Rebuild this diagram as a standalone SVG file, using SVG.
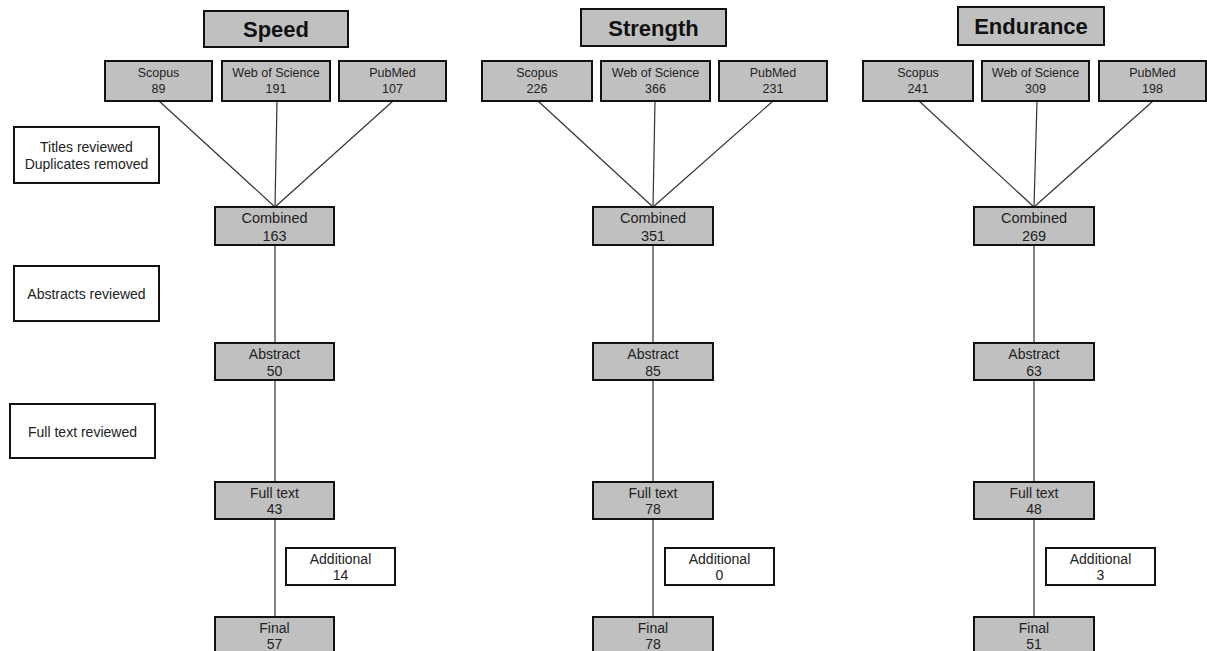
<svg xmlns="http://www.w3.org/2000/svg" width="1207" height="651" viewBox="0 0 1207 651">
  <style>
    .box { fill: #c0c0c0; stroke: #111; stroke-width: 2; }
    .note { fill: #ffffff; stroke: #111; stroke-width: 2; }
    text { font-family: "Liberation Sans", Arial, sans-serif; fill: #222; text-anchor: middle; }
    .title { font-size: 22px; font-weight: bold; fill: #111; }
    .src { font-size: 12.5px; }
    .lbl { font-size: 14px; }
    .cmb { font-size: 14.5px; }
    .conn line { stroke: #333; stroke-width: 1.2; }
  </style>
  <rect width="1207" height="651" fill="#ffffff"/>

  <!-- connectors -->
  <g id="connectors" class="conn">
    <!-- Speed -->
    <line x1="159" y1="101" x2="275" y2="207"/>
    <line x1="277" y1="101" x2="275" y2="207"/>
    <line x1="393" y1="101" x2="275" y2="207"/>
    <line x1="275" y1="245" x2="275" y2="343"/>
    <line x1="275" y1="380" x2="275" y2="482"/>
    <line x1="275" y1="519" x2="275" y2="617"/>
    <!-- Strength -->
    <line x1="538" y1="101" x2="653" y2="207"/>
    <line x1="655" y1="101" x2="653" y2="207"/>
    <line x1="773" y1="101" x2="653" y2="207"/>
    <line x1="653" y1="245" x2="653" y2="343"/>
    <line x1="653" y1="380" x2="653" y2="482"/>
    <line x1="653" y1="519" x2="653" y2="617"/>
    <!-- Endurance -->
    <line x1="919" y1="101" x2="1034" y2="207"/>
    <line x1="1037" y1="101" x2="1034" y2="207"/>
    <line x1="1153" y1="101" x2="1034" y2="207"/>
    <line x1="1034" y1="245" x2="1034" y2="343"/>
    <line x1="1034" y1="380" x2="1034" y2="482"/>
    <line x1="1034" y1="519" x2="1034" y2="617"/>
  </g>

  <!-- stage notes on the left -->
  <g id="note-titles">
    <rect class="note" x="14" y="127" width="145" height="56"/>
    <text class="lbl" x="86.5" y="152">Titles reviewed</text>
    <text class="lbl" x="86.5" y="169">Duplicates removed</text>
  </g>
  <g id="note-abstracts">
    <rect class="note" x="14" y="266" width="145" height="55"/>
    <text class="lbl" x="86.5" y="299">Abstracts reviewed</text>
  </g>
  <g id="note-fulltext">
    <rect class="note" x="10" y="404" width="145" height="54"/>
    <text class="lbl" x="82.5" y="437">Full text reviewed</text>
  </g>

  <!-- Speed column -->
  <g id="speed-title">
    <rect class="box" x="204" y="11" width="144" height="36"/>
    <text class="title" x="276" y="37">Speed</text>
  </g>
  <g id="speed-scopus">
    <rect class="box" x="105" y="61" width="107" height="40"/>
    <text class="src" x="158.5" y="77">Scopus</text>
    <text class="src" x="158.5" y="93">89</text>
  </g>
  <g id="speed-wos">
    <rect class="box" x="222" y="61" width="108" height="40"/>
    <text class="src" x="276" y="77">Web of Science</text>
    <text class="src" x="276" y="93">191</text>
  </g>
  <g id="speed-pubmed">
    <rect class="box" x="339" y="61" width="107" height="40"/>
    <text class="src" x="392.5" y="77">PubMed</text>
    <text class="src" x="392.5" y="93">107</text>
  </g>
  <g id="speed-combined">
    <rect class="box" x="215" y="207" width="119" height="38"/>
    <text class="cmb" x="274.5" y="222.5">Combined</text>
    <text class="cmb" x="274.5" y="240.5">163</text>
  </g>
  <g id="speed-abstract">
    <rect class="box" x="215" y="343" width="119" height="37"/>
    <text class="lbl" x="274.5" y="359">Abstract</text>
    <text class="lbl" x="274.5" y="375.5">50</text>
  </g>
  <g id="speed-fulltext">
    <rect class="box" x="215" y="482" width="119" height="37"/>
    <text class="lbl" x="274.5" y="497.5">Full text</text>
    <text class="lbl" x="274.5" y="514">43</text>
  </g>
  <g id="speed-additional">
    <rect class="note" x="286" y="548" width="109" height="37"/>
    <text class="lbl" x="340.5" y="563.5">Additional</text>
    <text class="lbl" x="340.5" y="580">14</text>
  </g>
  <g id="speed-final">
    <rect class="box" x="215" y="617" width="119" height="40"/>
    <text class="lbl" x="274.5" y="632.5">Final</text>
    <text class="lbl" x="274.5" y="649">57</text>
  </g>

  <!-- Strength column -->
  <g id="strength-title">
    <rect class="box" x="581" y="9" width="145" height="37"/>
    <text class="title" x="653.5" y="35.5">Strength</text>
  </g>
  <g id="strength-scopus">
    <rect class="box" x="482" y="61" width="110" height="40"/>
    <text class="src" x="537" y="77">Scopus</text>
    <text class="src" x="537" y="93">226</text>
  </g>
  <g id="strength-wos">
    <rect class="box" x="601" y="61" width="109" height="40"/>
    <text class="src" x="655.5" y="77">Web of Science</text>
    <text class="src" x="655.5" y="93">366</text>
  </g>
  <g id="strength-pubmed">
    <rect class="box" x="719" y="61" width="108" height="40"/>
    <text class="src" x="773" y="77">PubMed</text>
    <text class="src" x="773" y="93">231</text>
  </g>
  <g id="strength-combined">
    <rect class="box" x="593" y="207" width="120" height="38"/>
    <text class="cmb" x="653" y="222.5">Combined</text>
    <text class="cmb" x="653" y="240.5">351</text>
  </g>
  <g id="strength-abstract">
    <rect class="box" x="593" y="343" width="120" height="37"/>
    <text class="lbl" x="653" y="359">Abstract</text>
    <text class="lbl" x="653" y="375.5">85</text>
  </g>
  <g id="strength-fulltext">
    <rect class="box" x="593" y="482" width="120" height="37"/>
    <text class="lbl" x="653" y="497.5">Full text</text>
    <text class="lbl" x="653" y="514">78</text>
  </g>
  <g id="strength-additional">
    <rect class="note" x="665" y="548" width="109" height="37"/>
    <text class="lbl" x="719.5" y="563.5">Additional</text>
    <text class="lbl" x="719.5" y="580">0</text>
  </g>
  <g id="strength-final">
    <rect class="box" x="593" y="617" width="120" height="40"/>
    <text class="lbl" x="653" y="632.5">Final</text>
    <text class="lbl" x="653" y="649">78</text>
  </g>

  <!-- Endurance column -->
  <g id="endurance-title">
    <rect class="box" x="958" y="7" width="146" height="38"/>
    <text class="title" x="1031" y="34">Endurance</text>
  </g>
  <g id="endurance-scopus">
    <rect class="box" x="863" y="61" width="110" height="40"/>
    <text class="src" x="918" y="77">Scopus</text>
    <text class="src" x="918" y="93">241</text>
  </g>
  <g id="endurance-wos">
    <rect class="box" x="982" y="61" width="107" height="40"/>
    <text class="src" x="1035.5" y="77">Web of Science</text>
    <text class="src" x="1035.5" y="93">309</text>
  </g>
  <g id="endurance-pubmed">
    <rect class="box" x="1099" y="61" width="107" height="40"/>
    <text class="src" x="1152.5" y="77">PubMed</text>
    <text class="src" x="1152.5" y="93">198</text>
  </g>
  <g id="endurance-combined">
    <rect class="box" x="974" y="207" width="120" height="38"/>
    <text class="cmb" x="1034" y="222.5">Combined</text>
    <text class="cmb" x="1034" y="240.5">269</text>
  </g>
  <g id="endurance-abstract">
    <rect class="box" x="974" y="343" width="120" height="37"/>
    <text class="lbl" x="1034" y="359">Abstract</text>
    <text class="lbl" x="1034" y="375.5">63</text>
  </g>
  <g id="endurance-fulltext">
    <rect class="box" x="974" y="482" width="120" height="37"/>
    <text class="lbl" x="1034" y="497.5">Full text</text>
    <text class="lbl" x="1034" y="514">48</text>
  </g>
  <g id="endurance-additional">
    <rect class="note" x="1046" y="548" width="109" height="37"/>
    <text class="lbl" x="1100.5" y="563.5">Additional</text>
    <text class="lbl" x="1100.5" y="580">3</text>
  </g>
  <g id="endurance-final">
    <rect class="box" x="974" y="617" width="120" height="40"/>
    <text class="lbl" x="1034" y="632.5">Final</text>
    <text class="lbl" x="1034" y="649">51</text>
  </g>
</svg>
